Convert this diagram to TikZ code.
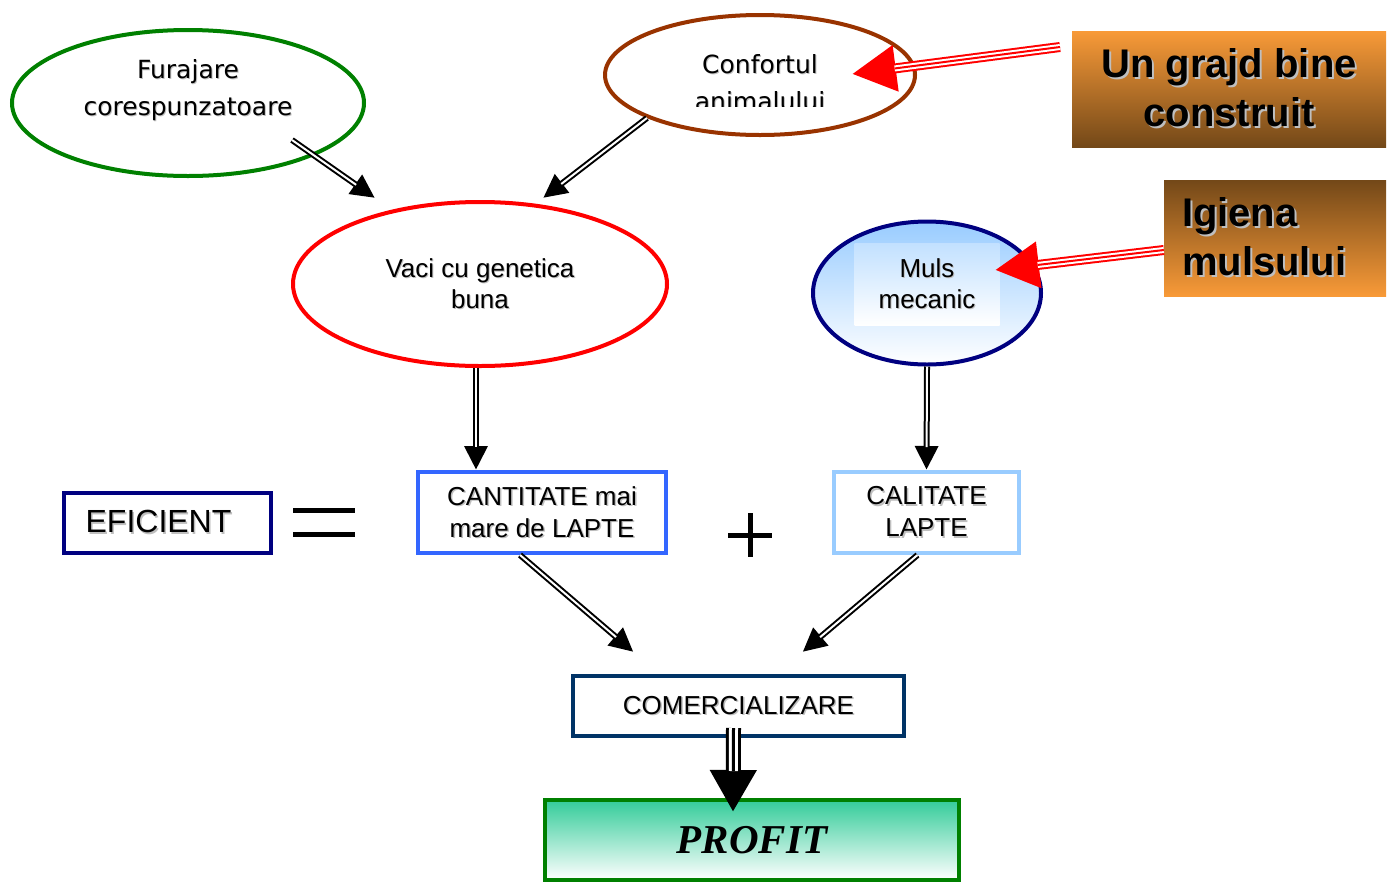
\documentclass[tikz,border=0pt]{standalone}
\usepackage{fontspec}
\setmainfont{Liberation Sans}
\newfontfamily\comicfont{DejaVu Sans}
\newfontfamily\profitfont{Liberation Serif}
\usetikzlibrary{arrows.meta,shapes.geometric,positioning,calc}

\definecolor{furgreen}{HTML}{008000}
\definecolor{confbrown}{HTML}{993300}
\definecolor{mulsnavy}{HTML}{000080}
\definecolor{cantblue}{HTML}{3366FF}
\definecolor{calblue}{HTML}{99CCFF}
\definecolor{comblue}{HTML}{003366}
\definecolor{profteal}{HTML}{33CC99}
\definecolor{orng}{HTML}{F89A38}
\definecolor{brwn}{HTML}{734818}

% grey text shadow
\newcommand{\shd}[2][1.5pt]{\makebox[0pt][l]{\hspace{#1}\raisebox{-#1}{\textcolor{black!25}{#2}}}#2}

\begin{document}
\begin{tikzpicture}[x=1pt, y=-1pt,
		oval/.style   = {draw, ellipse, line width=4pt, inner sep=0pt},
		box/.style    = {draw, rectangle, line width=4pt, align=center, inner sep=0pt, font=\fontsize{26}{32}\selectfont},
		comic/.style  = {align=center, inner sep=0pt, font=\comicfont\fontsize{25}{37}\selectfont},
		plain/.style  = {align=center, font=\fontsize{26}{31}\selectfont},
		bigbox/.style = {rectangle, inner sep=0pt, font=\fontsize{40}{49}\selectfont\bfseries},
		dbl/.style    = {draw=black, line width=6pt, -{Triangle[length=24pt,width=22pt]},
			postaction={draw, white, line width=2pt, -, shorten >=23pt}},
		bigarr/.style = {draw=black, line width=15pt, -{Triangle[length=42pt,width=44pt]},
			postaction={draw, white, line width=9pt, -, shorten >=41pt},
			postaction={draw, black, line width=3pt, -, shorten >=41pt}},
		redarr/.style = {draw=red, line width=10pt, -{Triangle[length=44pt,width=44pt]},
			postaction={draw, white, line width=6pt, -, shorten >=43pt},
			postaction={draw, red, line width=2pt, -, shorten >=43pt}}]
		
		\useasboundingbox (0,0) rectangle (1396,884);
		
		% Ovals on top
		\node[oval, draw=furgreen, minimum width=352pt, minimum height=146pt] (fur) at (188,103) {};
		\node[comic] (furtxt) at ([yshift=12pt]fur.center) {\shd[1pt]{Furajare}\\\shd[1pt]{corespunzatoare}};
		
		\node[oval, draw=confbrown, minimum width=310pt, minimum height=120pt] (conf) at (760,75) {};
		\begin{scope}
		\clip (600,0) rectangle (920,106);
		\node[comic] (conftxt) at ([yshift=-8pt]conf.center) {\shd[1pt]{Confortul}\\\shd[1pt]{animalului}};
		\end{scope}
		
		\node[oval, draw=red, minimum width=374pt, minimum height=164pt, plain] (vaci) at (480,284) {\shd[1pt]{Vaci cu genetica}\\\shd[1pt]{buna}};
		
		\node[oval, draw=mulsnavy, top color=calblue, bottom color=white, minimum width=228pt, minimum height=143pt] (muls) at (927,293) {};
		\node[plain, rectangle, top color=calblue!60, bottom color=white, minimum width=145pt, minimum height=82pt] (mulstxt) at (927,284) {\shd[1pt]{Muls}\\\shd[1pt]{mecanic}};
		
		% Orange boxes on the right
		\node[bigbox, top color=orng, bottom color=brwn, minimum width=314pt, minimum height=116pt, align=center] (grajd) at (1229,89) {\shd[2pt]{Un grajd bine}\\\shd[2pt]{construit}};
		\node[bigbox, top color=brwn, bottom color=orng, minimum width=222pt, minimum height=116pt, text width=186pt, align=left] (igiena) at (1275,238) {\shd[2pt]{Igiena}\\\shd[2pt]{mulsului}};
		
		% The equation row
		\node[box, draw=mulsnavy, minimum width=207pt, minimum height=60pt, font=\fontsize{32}{38}\selectfont] (efi) at (167.5,522.5) {\shd{EFICIENT}\hspace*{18pt}};
		\node[box, draw=cantblue, minimum width=248pt, minimum height=81pt] (cant) at (542,512.5) {\shd{CANTITATE mai}\\\shd{mare de LAPTE}};
		\node[box, draw=calblue, minimum width=185pt, minimum height=81pt] (cal) at (926.5,512.5) {\shd{CALITATE}\\\shd{LAPTE}};
		\draw[line width=5pt] (293,510) -- (355,510) (293,534) -- (355,534);
		\draw[line width=5pt] (728,535) -- (772,535) (750,513) -- (750,557);
		
		% Bottom boxes
		\node[box, draw=comblue, minimum width=331pt, minimum height=60pt] (com) at (738.5,706) {\shd{COMERCIALIZARE}};
		\node[box, draw=furgreen, top color=profteal, bottom color=white, minimum width=414pt, minimum height=80pt,
			font=\profitfont\fontsize{41}{48}\selectfont\bfseries\itshape] (prof) at (752,840) {PROFIT};
		
		% Black double arrows
		\draw[dbl] ([shift={(104,37)}]fur.center) -- ([shift={(-105,-86)}]vaci.center);
		\draw[dbl] ([shift={(-113,43)}]conf.center) -- ([shift={(63,-86)}]vaci.center);
		\draw[dbl] ([shift={(-4,84)}]vaci.center) -- ([xshift=-66pt]cant.north);
		\draw[dbl] (muls.south) -- (cal.north);
		\draw[dbl] ([xshift=-22pt]cant.south) -- ([shift={(-105,-54)}]com.center);
		\draw[dbl] ([xshift=-9pt]cal.south) -- ([shift={(64,-54)}]com.center);
		\draw[bigarr] ([shift={(-5,22)}]com.center) -- ([shift={(-19,-28)}]prof.center);
		
		% Red arrows from the orange boxes
		\draw[redarr] ([shift={(-169,-42)}]grajd.center) -- ([shift={(92,-1)}]conf.center);
		\draw[redarr] ([yshift=-12pt]igiena.west) -- ([shift={(68,-23)}]muls.center);
		
	\end{tikzpicture}
\end{document}
